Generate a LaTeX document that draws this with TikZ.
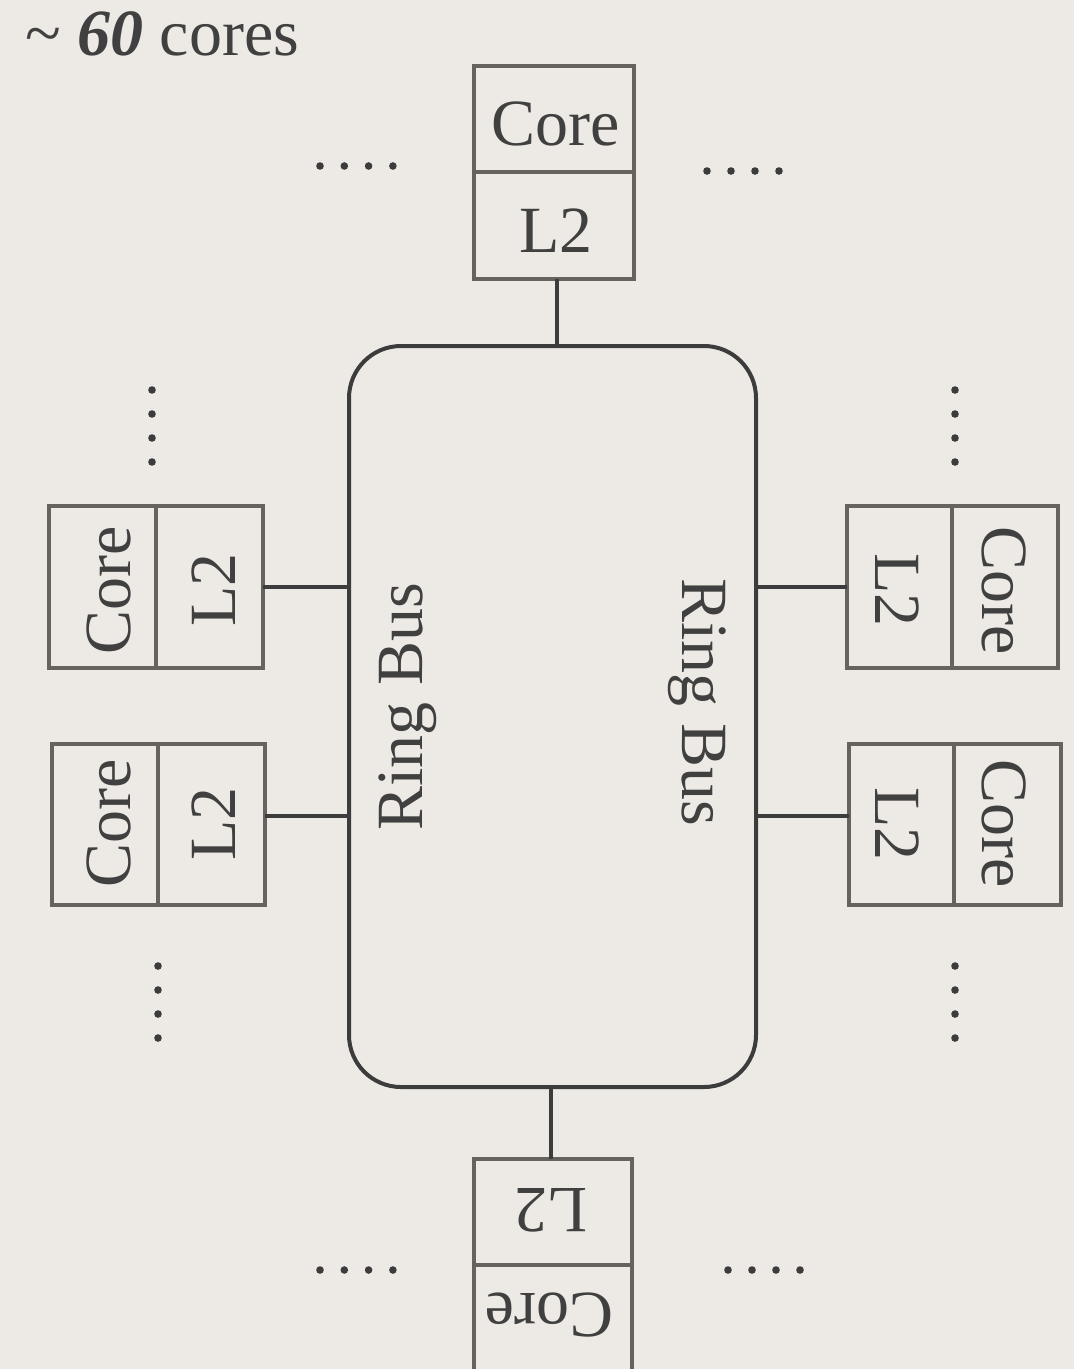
\documentclass[tikz,border=0pt]{standalone}
\usepackage{fontspec}
\setmainfont{Liberation Serif}
\usepackage{tikz}

\definecolor{paper}{RGB}{237,234,229}
\definecolor{ink}{RGB}{64,64,64}
\definecolor{boxline}{RGB}{102,99,94}
\definecolor{busline}{RGB}{60,60,60}

\begin{document}
\begin{tikzpicture}[x=1pt,y=-1pt,
  cell/.style={draw=boxline, line width=4.5pt, rectangle, outer sep=0pt, inner sep=0pt},
  label/.style={text=ink, inner sep=0pt, anchor=base, font=\fontsize{66}{72}\selectfont},
  bus/.style={draw=busline, line width=4pt},
  dot/.style={fill=busline}
]
% page
\useasboundingbox (0,0) rectangle (1074,1369);
\clip (0,0) rectangle (1074,1369);
\fill[paper] (0,0) rectangle (1074,1369);

% title
\node[label, anchor=base west] (title) at (25,55) {\textasciitilde\ \textbf{\textit{60}} cores};

% ring bus
\node[bus, rectangle, rounded corners=52pt, outer sep=0pt,
      minimum width=407pt, minimum height=741pt] (ring) at (552.5,716.5) {};
\node[label, rotate=90]  (busL) at (422,707) {Ring Bus};
\node[label, rotate=-90] (busR) at (682,702) {Ring Bus};

% top core
\node[cell, minimum width=160pt, minimum height=106pt] (tcore) at (554,119) {};
\node[cell, minimum width=160pt, minimum height=107pt] (tl2) at (554,225.5) {};
\node[label] (tcoreT) at (556,145) {Core};
\node[label] (tl2T) at (556,252) {L2};

% bottom core (upside down)
\node[cell, minimum width=158pt, minimum height=106pt] (bl2) at (553,1212) {};
\node[cell, minimum width=158pt, minimum height=107pt] (bcore) at (553,1318.5) {};
\node[label, rotate=180] (bl2T) at (551,1188) {L2};
\node[label, rotate=180] (bcoreT) at (549,1293) {Core};

% left cores
\node[cell, minimum width=107pt, minimum height=162pt] (lcoreA) at (102.5,587) {};
\node[cell, minimum width=107pt, minimum height=162pt] (ll2A) at (209.5,587) {};
\node[cell, minimum width=106pt, minimum height=161pt] (lcoreB) at (105,824.5) {};
\node[cell, minimum width=107pt, minimum height=161pt] (ll2B) at (211.5,824.5) {};
\node[label, rotate=90] (lcoreAT) at (130,590) {Core};
\node[label, rotate=90] (ll2AT) at (235,590) {L2};
\node[label, rotate=90] (lcoreBT) at (130,823) {Core};
\node[label, rotate=90] (ll2BT) at (235,824) {L2};

% right cores
\node[cell, minimum width=105pt, minimum height=162pt] (rl2A) at (899.5,587) {};
\node[cell, minimum width=106pt, minimum height=162pt] (rcoreA) at (1005,587) {};
\node[cell, minimum width=105pt, minimum height=161pt] (rl2B) at (901.5,824.5) {};
\node[cell, minimum width=107pt, minimum height=161pt] (rcoreB) at (1007.5,824.5) {};
\node[label, rotate=-90] (rl2AT) at (875,590) {L2};
\node[label, rotate=-90] (rcoreAT) at (982,591) {Core};
\node[label, rotate=-90] (rl2BT) at (875,824) {L2};
\node[label, rotate=-90] (rcoreBT) at (982,824) {Core};

% links to the ring
\draw[bus] ([xshift=3pt]tl2.south) -- ([xshift=3pt]tl2.south |- ring.north);
\draw[bus] ([xshift=-2pt]bl2.north) -- ([xshift=-2pt]bl2.north |- ring.south);
\draw[bus] (ll2A.east) -- (ll2A.east -| ring.west);
\draw[bus] ([yshift=9pt]ll2B.east) -- ([yshift=9pt]ll2B.east -| ring.west);
\draw[bus] (rl2A.west) -- (rl2A.west -| ring.east);
\draw[bus] ([yshift=9pt]rl2B.west) -- ([yshift=9pt]rl2B.west -| ring.east);

% ellipsis dots
\foreach \i in {0,...,3} {
  \fill[dot] (320+24.3*\i,166) circle (3.8);
  \fill[dot] (707+24*\i,171) circle (3.8);
  \fill[dot] (320+24.3*\i,1270) circle (3.8);
  \fill[dot] (728+24*\i,1270) circle (3.8);
  \fill[dot] (152,390+24*\i) circle (3.8);
  \fill[dot] (158,966+24*\i) circle (3.8);
  \fill[dot] (955,390+24*\i) circle (3.8);
  \fill[dot] (955,966+24*\i) circle (3.8);
}
\end{tikzpicture}
\end{document}
